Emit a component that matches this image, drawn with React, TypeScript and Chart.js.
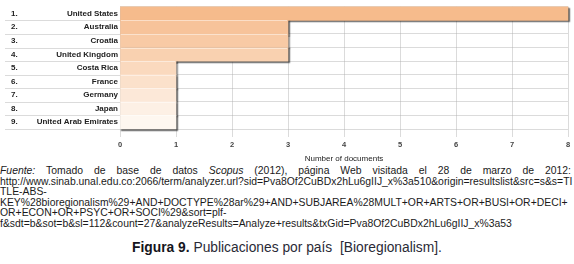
import React, { useEffect, useRef } from "react";
import { Chart, registerables } from "chart.js";

Chart.register(...registerables);

const RANKS = ["1.", "2.", "3.", "4.", "5.", "6.", "7.", "8.", "9."];
const COUNTRIES = [
  "United States",
  "Australia",
  "Croatia",
  "United Kingdom",
  "Costa Rica",
  "France",
  "Germany",
  "Japan",
  "United Arab Emirates",
];
const DOCUMENTS = [8, 3, 3, 3, 1, 1, 1, 1, 1];
const X_TICKS = [0, 1, 2, 3, 4, 5, 6, 7, 8];
const X_TITLE = "Number of documents";

const COLORS = [
  "#F6BB8C",
  "#F7C39A",
  "#F8CAA5",
  "#F9D1B0",
  "#FAD9BE",
  "#FBE1CB",
  "#FCE8D8",
  "#FDF0E5",
  "#FEF7F0",
];

const FONT = '"Liberation Sans", Arial, sans-serif';
const GRID = "rgba(175,175,175,0.45)";

const CAPTION_LINES = [
  "http://www.sinab.unal.edu.co:2066/term/analyzer.url?sid=Pva8Of2CuBDx2hLu6gIIJ_x%3a510&origin=resultslist&src=s&s=TI",
  "TLE-ABS-",
  "KEY%28bioregionalism%29+AND+DOCTYPE%28ar%29+AND+SUBJAREA%28MULT+OR+ARTS+OR+BUSI+OR+DECI+",
  "OR+ECON+OR+PSYC+OR+SOCI%29&sort=plf-",
  "f&sdt=b&sot=b&sl=112&count=27&analyzeResults=Analyze+results&txGid=Pva8Of2CuBDx2hLu6gIIJ_x%3a53",
];

const shadowPlugin = {
  id: "barShadow",
  beforeDatasetsDraw(chart: any) {
    const ctx = chart.ctx;
    ctx.save();
    ctx.shadowColor = "rgba(40,40,40,0.75)";
    ctx.shadowOffsetX = 1.2;
    ctx.shadowOffsetY = 1.2;
    ctx.shadowBlur = 1.2;
  },
  afterDatasetsDraw(chart: any) {
    const ctx = chart.ctx;
    ctx.restore();
    const { chartArea, scales } = chart;
    const y = scales.y;
    const x = scales.x;
    const step = y.getPixelForValue(1) - y.getPixelForValue(0);
    ctx.save();
    ctx.strokeStyle = "rgba(255,255,255,0.45)";
    ctx.lineWidth = 1;
    for (let i = 1; i < DOCUMENTS.length; i++) {
      const py = Math.round(y.getPixelForValue(i) - step / 2) + 0.5;
      const xe = x.getPixelForValue(Math.min(DOCUMENTS[i - 1], DOCUMENTS[i]));
      ctx.beginPath();
      ctx.moveTo(chartArea.left + 1, py);
      ctx.lineTo(xe - 1, py);
      ctx.stroke();
    }
    ctx.restore();
  },
};

const tablePlugin = {
  id: "tableRows",
  afterDraw(chart: any) {
    const { ctx, chartArea, scales } = chart;
    const y = scales.y;
    const step = y.getPixelForValue(1) - y.getPixelForValue(0);
    ctx.save();
    ctx.strokeStyle = GRID;
    ctx.lineWidth = 1;
    for (let i = 1; i <= COUNTRIES.length; i++) {
      const py = Math.round(y.getPixelForValue(i) - step / 2) + 0.5;
      ctx.beginPath();
      ctx.moveTo(5, py);
      ctx.lineTo(chartArea.left, py);
      ctx.stroke();
    }
    ctx.fillStyle = "#222";
    ctx.font = "bold 8px " + FONT;
    ctx.textAlign = "left";
    ctx.textBaseline = "middle";
    RANKS.forEach((r, i) => ctx.fillText(r, 11, y.getPixelForValue(i)));
    ctx.restore();
  },
};

function BarChart() {
  const ref = useRef<HTMLCanvasElement>(null);
  useEffect(() => {
    if (!ref.current) return;
    const chart = new Chart(ref.current, {
      type: "bar",
      data: {
        labels: COUNTRIES,
        datasets: [
          {
            data: DOCUMENTS,
            backgroundColor: COLORS,
            borderWidth: 0,
            barPercentage: 1,
            categoryPercentage: 1,
            clip: 6,
          } as any,
        ],
      },
      options: {
        indexAxis: "y",
        animation: false,
        responsive: false,
        maintainAspectRatio: false,
        events: [],
        layout: { padding: { left: 0, right: 6, top: 3, bottom: 0 } },
        plugins: {
          legend: { display: false },
          tooltip: { enabled: false },
          title: { display: false },
        },
        scales: {
          x: {
            type: "linear",
            min: 0,
            max: 8,
            z: 1,
            afterFit(scale: any) {
              scale.height = 36;
            },
            afterBuildTicks(scale: any) {
              scale.ticks = X_TICKS.map((v) => ({ value: v }));
            },
            grid: {
              color: GRID,
              lineWidth: 1,
              tickLength: 8,
              drawTicks: true,
            },
            border: { display: false },
            ticks: {
              padding: 3,
              color: "#444",
              font: { family: FONT, size: 7.5, weight: "bold" },
              maxRotation: 0,
            },
            title: {
              display: true,
              text: X_TITLE,
              color: "#222",
              font: { family: FONT, size: 8 },
              padding: { top: 0, bottom: 1 },
            },
          },
          y: {
            type: "category",
            afterFit(scale: any) {
              scale.width = 120;
            },
            grid: {
              color: GRID,
              lineWidth: 1,
              drawTicks: false,
              offset: true,
            },
            border: { display: false },
            ticks: {
              padding: 2,
              color: "#222",
              font: { family: FONT, size: 8, weight: "bold" },
            },
          },
        },
      } as any,
      plugins: [shadowPlugin, tablePlugin],
    });
    return () => chart.destroy();
  }, []);
  return (
    <canvas
      ref={ref}
      width={574}
      height={165}
      style={{ position: "absolute", left: 0, top: 0, width: 574, height: 165 }}
    />
  );
}

export default function App() {
  const textStyle: React.CSSProperties = {
    position: "absolute",
    left: 0,
    fontFamily: FONT,
    fontSize: 10.4,
    lineHeight: "10.6px",
    color: "#1a1a1a",
    whiteSpace: "nowrap",
  };
  return (
    <div
      style={{
        position: "absolute",
        left: 0,
        top: 0,
        width: 574,
        height: 264,
        background: "#fff",
        overflow: "hidden",
      }}
    >
      <BarChart />
      <div
        style={{
          ...textStyle,
          top: 166,
          width: 571,
          textAlign: "justify",
          textAlignLast: "justify",
          whiteSpace: "normal",
          height: 11,
        }}
      >
        <i>Fuente:</i> Tomado de base de datos <i>Scopus</i> (2012), página Web visitada el 28 de marzo de 2012:
      </div>
      {CAPTION_LINES.map((line, i) => (
        <div key={i} style={{ ...textStyle, top: 176.6 + i * 10.6 }}>
          {line}
        </div>
      ))}
      <div
        style={{
          position: "absolute",
          left: 0,
          width: 574,
          top: 240,
          textAlign: "center",
          fontFamily: FONT,
          fontSize: 13.8,
          lineHeight: "16px",
          color: "#2a2a36",
          whiteSpace: "nowrap",
        }}
      >
        <b style={{ color: "#151520" }}>Figura 9.</b> Publicaciones por país &nbsp;[Bioregionalism].
      </div>
    </div>
  );
}
